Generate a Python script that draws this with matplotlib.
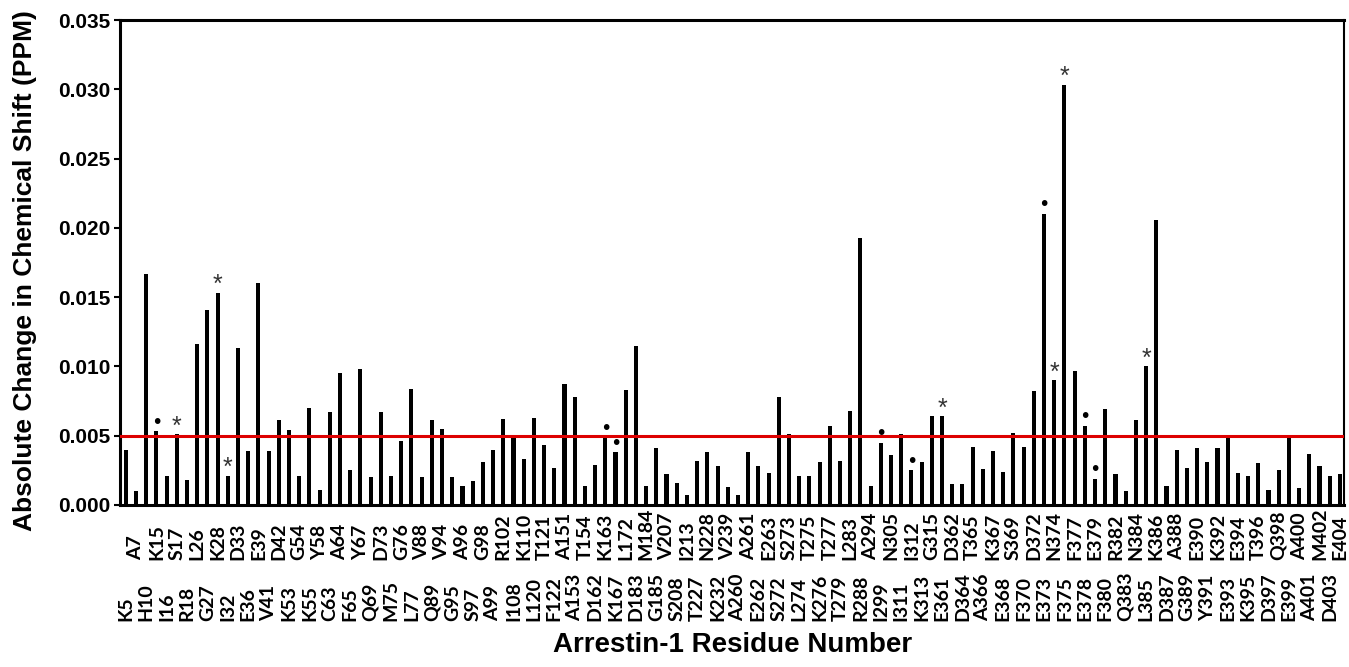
import matplotlib
matplotlib.use('Agg')
import matplotlib.pyplot as plt
import matplotlib.transforms as mtransforms

residues = ['K5', 'A7', 'H10', 'K15', 'I16', 'S17', 'R18', 'L26', 'G27', 'K28',
            'I32', 'D33', 'E36', 'E39', 'V41', 'D42', 'K53', 'G54', 'K55', 'Y58',
            'C63', 'A64', 'F65', 'Y67', 'Q69', 'D73', 'M75', 'G76', 'L77', 'V88',
            'Q89', 'V94', 'G95', 'A96', 'S97', 'G98', 'A99', 'R102', 'I108', 'K110',
            'L120', 'T121', 'F122', 'A151', 'A153', 'T154', 'D162', 'K163', 'K167', 'L172',
            'D183', 'M184', 'G185', 'V207', 'S208', 'I213', 'T227', 'N228', 'K232', 'V239',
            'A260', 'A261', 'E262', 'E263', 'S272', 'S273', 'L274', 'T275', 'K276', 'T277',
            'T279', 'L283', 'R288', 'A294', 'I299', 'N305', 'I311', 'I312', 'K313', 'G315',
            'E361', 'D362', 'D364', 'T365', 'A366', 'K367', 'E368', 'S369', 'F370', 'D372',
            'E373', 'N374', 'F375', 'F377', 'E378', 'E379', 'F380', 'R382', 'Q383', 'N384',
            'L385', 'K386', 'D387', 'A388', 'G389', 'E390', 'Y391', 'K392', 'E393', 'E394',
            'K395', 'T396', 'D397', 'Q398', 'E399', 'A400', 'A401', 'M402', 'D403', 'E404']

shift = [0.0040, 0.0010, 0.0167, 0.0053, 0.0021, 0.0051, 0.0018, 0.0116, 0.0141, 0.0153,
         0.0021, 0.0113, 0.0039, 0.0160, 0.0039, 0.0061, 0.0054, 0.0021, 0.0070, 0.0011,
         0.0067, 0.0095, 0.0025, 0.0098, 0.0020, 0.0067, 0.0021, 0.0046, 0.0084, 0.0020,
         0.0061, 0.0055, 0.0020, 0.0014, 0.0017, 0.0031, 0.0040, 0.0062, 0.0050, 0.0033,
         0.0063, 0.0043, 0.0027, 0.0087, 0.0078, 0.0014, 0.0029, 0.0049, 0.0038, 0.0083,
         0.0115, 0.0014, 0.0041, 0.0022, 0.0016, 0.0007, 0.0032, 0.0038, 0.0028, 0.0013,
         0.0007, 0.0038, 0.0028, 0.0023, 0.0078, 0.0051, 0.0021, 0.0021, 0.0031, 0.0057,
         0.0032, 0.0068, 0.0193, 0.0014, 0.0045, 0.0036, 0.0051, 0.0025, 0.0031, 0.0064,
         0.0064, 0.0015, 0.0015, 0.0042, 0.0026, 0.0039, 0.0024, 0.0052, 0.0042, 0.0082,
         0.0210, 0.0090, 0.0303, 0.0097, 0.0057, 0.0019, 0.0069, 0.0022, 0.0010, 0.0061,
         0.0100, 0.0206, 0.0014, 0.0040, 0.0027, 0.0041, 0.0031, 0.0041, 0.0050, 0.0023,
         0.0021, 0.0030, 0.0011, 0.0025, 0.0048, 0.0012, 0.0037, 0.0028, 0.0021, 0.0022]

star_residues = ['S17', 'K28', 'I32', 'E361', 'N374', 'F375', 'L385']
dot_residues = ['K15', 'K163', 'K167', 'I299', 'I312', 'E373', 'E378', 'E379']
threshold = 0.005

fig = plt.figure(figsize=(13.49, 6.67), dpi=100)
ax = fig.add_axes([0.089, 0.243, 0.9073, 0.727])

x = list(range(len(residues)))
ax.bar(x, shift, width=0.4, color='black')
ax.axhline(threshold, color='#dd0000', lw=2.2, zorder=3)

ax.set_xlim(-0.56, len(residues) - 0.6)
ax.set_ylim(0, 0.035)
ax.set_yticks([0.000, 0.005, 0.010, 0.015, 0.020, 0.025, 0.030, 0.035])
ax.set_yticklabels(['%.3f' % t for t in ax.get_yticks()],
                   fontfamily='Liberation Sans', fontweight='bold', fontsize=15)
ax.tick_params(axis='y', length=4, width=1.5, pad=3)
ax.set_xticks([])
for s in ax.spines.values():
    s.set_linewidth(2.2)
ax.spines['right'].set_linewidth(1.5)

# staggered residue labels, two rows
trans = mtransforms.blended_transform_factory(ax.transData, ax.transAxes)
for i, name in enumerate(residues):
    yrow = -0.239 if i % 2 == 0 else -0.113
    ax.text(i, yrow, name, transform=trans, rotation=90, ha='center', va='bottom',
            fontfamily='Lato', fontweight='bold', fontsize=14)

for name in star_residues:
    i = residues.index(name)
    ax.annotate('*', (i, shift[i]), xytext=(0, -3), textcoords='offset points',
                ha='center', va='bottom', fontsize=18, color='#333333',
                fontfamily='Liberation Sans')
for name in dot_residues:
    i = residues.index(name)
    ax.annotate('\u2022', (i, shift[i]), xytext=(0, 6.5), textcoords='offset points',
                ha='center', va='center', fontsize=14, color='black',
                fontfamily='DejaVu Sans')

fig.text(0.0185, 0.595, 'Absolute Change in Chemical Shift (PPM)', rotation=90,
         ha='center', va='center', fontfamily='Liberation Sans', fontweight='bold',
         fontsize=19)
fig.text(0.543, 0.033, 'Arrestin-1 Residue Number', ha='center', va='center',
         fontfamily='Liberation Sans', fontweight='bold', fontsize=20)

fig.savefig('out.png', dpi=100)
